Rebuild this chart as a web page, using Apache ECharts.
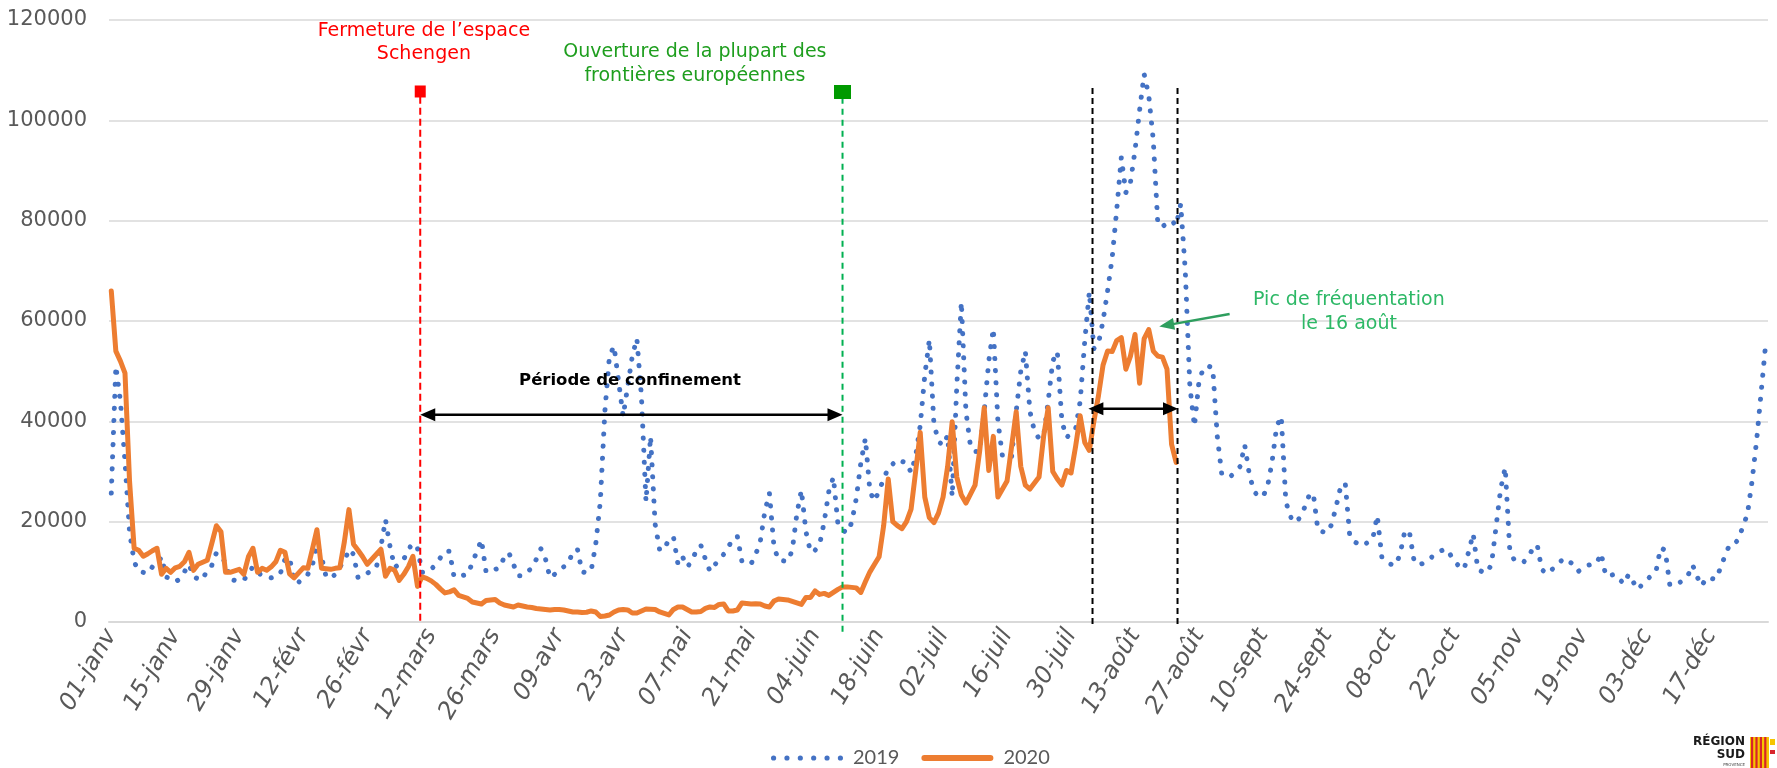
<!DOCTYPE html>
<html>
<head>
<meta charset="utf-8">
<script src="https://cdn.jsdelivr.net/npm/echarts@6/dist/echarts.min.js"></script>
<style>
html, body { margin: 0; padding: 0; background: #fff; }
#echarts { width: 1777px; height: 768px; }
</style>
</head>
<body>
<div id="echarts"></div>
<script>
// axe des dates (calendrier 2019)
var monthNames = ['janv', 'févr', 'mars', 'avr', 'mai', 'juin', 'juil', 'août', 'sept', 'oct', 'nov', 'déc'];
var monthDays = [31, 28, 31, 30, 31, 30, 31, 31, 30, 31, 30, 31];
var dayCount = 363;
var yTicks = [0, 20000, 40000, 60000, 80000, 100000, 120000];

// fréquentation journalière 2019
var visits2019 = [
    25700, 51000, 44000, 32000, 18000, 12000, 10100, 9900, 9700, 11000,
    11500, 13000, 9000, 8500, 8000, 8600, 10000, 11500, 9000, 8600,
    8400, 10500, 11300, 13800, 12700, 12000, 8500, 8300, 8200, 8300,
    9800, 11000, 10000, 9200, 9000, 8800, 9000, 9700, 12500, 12900,
    8000, 7900, 9000, 9500, 11300, 15300, 13000, 9000, 8700, 9500,
    11000, 12100, 14500, 13500, 8800, 9200, 9700, 10300, 10900, 15000,
    20400, 15000, 10900, 11500, 12500, 14500, 15700, 14700, 9900, 9900,
    10500, 11500, 12800, 14100, 14100, 9000, 9100, 9300, 9500, 11800,
    14100, 16400, 10000, 10000, 10500, 10800, 13000, 13800, 11500, 9200,
    9200, 10000, 10700, 12500, 14600, 12600, 8800, 9500, 10500, 11000,
    11700, 14000, 14500, 10000, 9800, 10200, 15500, 24000, 42000, 53000,
    55000, 48000, 41000, 47000, 53000, 56500, 45000, 24000, 37000, 19500,
    14300, 14500, 16500, 17000, 11500, 13000, 11000, 12000, 14300, 15300,
    12500, 10100, 11300, 12500, 13500, 14800, 16800, 17000, 12000, 11800,
    11600, 13500, 16000, 22000, 25700, 15000, 12300, 12200, 12100, 14300,
    21500, 26300, 18000, 13900, 14300, 15500, 20000, 26000, 28900, 19500,
    18300, 17800, 19800, 24600, 31700, 36600, 26000, 24100, 26200, 28500,
    30700, 31500, 32400, 32000, 31800, 29800, 33000, 39200, 49200, 56300,
    39500, 36000, 35200, 37200, 25000, 47000, 63800, 42000, 35000, 34000,
    34000, 42000, 52000, 58500, 40000, 33000, 32500, 33000, 42000, 50000,
    54000, 42000, 38000, 36600, 37000, 44000, 52000, 53900, 40000, 36800,
    37500, 38500, 44000, 56000, 65800, 54500, 55500, 60000, 66000, 72600,
    82200, 92600, 85600, 87600, 94000, 102000, 109200, 105000, 96000, 79200,
    78800, 79500, 80000, 79000, 83300, 70000, 47000, 39000, 48000, 50700,
    51000, 50700, 37000, 29300, 29100, 29100, 30000, 31000, 35300, 29500,
    26100, 25000, 25000, 27000, 32000, 39000, 41000, 24000, 21000, 19800,
    20700, 22600, 25000, 25700, 18400, 18000, 17800, 19400, 23000, 27000,
    27700, 17000, 16000, 15500, 15200, 16000, 16500, 21200, 13000, 12000,
    11500, 11300, 13500, 18000, 18200, 12500, 11300, 11700, 12100, 13000,
    13700, 14200, 14600, 13400, 12000, 11000, 10500, 14000, 17600, 10500,
    10000, 9800, 11500, 19000, 26500, 30800, 14300, 12300, 12000, 11900,
    13000, 14500, 15400, 10500, 9600, 10300, 11000, 12000, 12700, 12000,
    11500, 10100, 10700, 11300, 11500, 11700, 13700, 9200, 9300, 9500,
    8500, 7600, 9500, 8000, 6500, 7500, 8400, 9300, 10100, 14800,
    14300, 7500, 7200, 7700, 8500, 9300, 11400, 9000, 7200, 8800,
    8700, 8500, 10500, 13000, 15200, 15300, 16500, 19000, 21500, 28000,
    36100, 45800, 55500
];

// fréquentation journalière 2020 (jusqu'au 21 août)
var visits2020 = [
    66000, 54000, 52000, 49600, 28000, 14700, 14300, 13100, 13600, 14200,
    14700, 9500, 10700, 9900, 10800, 11100, 12000, 13900, 10300, 11500,
    11900, 12300, 15700, 19200, 18000, 9900, 9900, 10200, 10500, 9500,
    13000, 14700, 9900, 10700, 10300, 11000, 12000, 14300, 13900, 9600,
    8800, 9800, 10800, 10700, 14500, 18400, 10700, 10600, 10500, 10700,
    10800, 16000, 22400, 15500, 14300, 13000, 11500, 12500, 13500, 14500,
    9100, 10700, 10300, 8300, 9500, 11000, 13100, 7100, 9000, 8700,
    8200, 7500, 6600, 5800, 6000, 6400, 5300, 5000, 4700, 4000,
    3800, 3600, 4300, 4400, 4500, 3800, 3400, 3200, 3000, 3400,
    3200, 3000, 2900, 2700, 2600, 2500, 2400, 2500, 2500, 2400,
    2200, 2000, 2000, 1900, 1950, 2200, 2000, 1100, 1200, 1400,
    2000, 2400, 2500, 2400, 1800, 1800, 2200, 2600, 2550, 2500,
    2000, 1700, 1400, 2500, 3000, 3000, 2500, 2000, 2000, 2100,
    2700, 3000, 2900, 3500, 3600, 2200, 2200, 2400, 3800, 3700,
    3600, 3650, 3600, 3200, 3000, 4200, 4600, 4500, 4400, 4100,
    3800, 3500, 4900, 4900, 6200, 5500, 5700, 5300, 5900, 6500,
    7000, 7000, 6900, 6800, 5900, 8000, 10000, 11500, 13000, 19200,
    28500, 20000, 19200, 18600, 20000, 22500, 30000, 37800, 24900, 20800,
    19800, 21700, 24900, 31000, 39900, 28900, 25300, 23700, 25500, 27300,
    34000, 42700, 30200, 37000, 24900, 26500, 28100, 35000, 41900, 31000,
    27300, 26500, 27700, 28900, 37000, 42700, 30000, 28500, 27300, 30200,
    29700, 35000, 41100, 35800, 34200, 40000, 45100, 51200, 54000, 53900,
    56100, 56700, 50400, 53000, 57300, 47600, 56500, 58300, 54000, 53000,
    52800, 50400, 35400, 31800
];

var categories = [];
for (var m = 0; m < 12 && categories.length < dayCount; m++) {
    for (var d = 1; d <= monthDays[m] && categories.length < dayCount; d++) {
        categories.push((d < 10 ? '0' + d : '' + d) + '-' + monthNames[m]);
    }
}

// icônes de légende : pointillés ronds et trait épais
var dotIcon = 'path://';
for (var k = 0; k < 6; k++) {
    var cx = 2.5 + k * 12.9;
    dotIcon += 'M' + (cx - 2.5) + ' 2.5A2.5 2.5 0 1 0 ' + (cx + 2.5) + ' 2.5A2.5 2.5 0 1 0 ' + (cx - 2.5) + ' 2.5Z';
}
var barIcon = 'path://M3 0H69A3 3 0 0 1 69 6H3A3 3 0 0 1 3 0Z';

var myChart = echarts.init(document.getElementById('echarts'));

var option = {
    animation: false,
    backgroundColor: '#fff',
    grid: {
        left: 109,
        right: 9,
        top: 20,
        bottom: 146
    },
    legend: {
        left: 766,
        top: 743,
        itemWidth: 72,
        itemHeight: 24,
        itemGap: 22,
        textStyle: {
            color: '#595959',
            fontSize: 20,
            fontFamily: 'Lato',
            padding: [0, 0, 0, 5]
        },
        data: [
            { name: '2019', icon: dotIcon },
            { name: '2020', icon: barIcon }
        ]
    },
    xAxis: [
        {
            type: 'category',
            data: categories,
            boundaryGap: true,
            axisLine: {
                lineStyle: {
                    color: '#D9D9D9',
                    width: 2
                }
            },
            axisTick: {
                interval: 13,
                length: 7,
                lineStyle: {
                    color: '#D9D9D9',
                    width: 1.5
                }
            },
            axisLabel: {
                interval: 13,
                rotate: 60,
                margin: 9,
                color: '#595959',
                fontStyle: 'italic',
                fontSize: 24,
                fontFamily: 'DejaVu Sans'
            }
        }
    ],
    yAxis: [
        {
            type: 'value',
            min: yTicks[0],
            max: yTicks[yTicks.length - 1],
            interval: yTicks[1] - yTicks[0],
            axisLine: { show: false },
            axisTick: { show: false },
            splitLine: {
                lineStyle: {
                    color: '#D9D9D9',
                    width: 1.5
                }
            },
            axisLabel: {
                color: '#595959',
                fontSize: 21,
                fontFamily: 'DejaVu Sans',
                margin: 22,
                formatter: function (v) { return '' + v; }
            }
        }
    ],
    series: [
        {
            name: '2019',
            type: 'line',
            data: visits2019,
            symbol: 'none',
            z: 2,
            itemStyle: { color: '#4472C4' },
            lineStyle: {
                color: '#4472C4',
                width: 5,
                type: [0.1, 12],
                cap: 'round',
                join: 'round'
            }
        },
        {
            name: '2020',
            type: 'line',
            data: visits2020,
            symbol: 'none',
            z: 3,
            itemStyle: { color: '#ED7D31' },
            lineStyle: {
                color: '#ED7D31',
                width: 5,
                cap: 'round',
                join: 'round'
            }
        }
    ]
};
myChart.setOption(option);

// position sur l'axe des dates (index de jour, fractionnaire)
function noteX(c) {
    var a = myChart.convertToPixel({ xAxisIndex: 0 }, 0);
    var b = myChart.convertToPixel({ xAxisIndex: 0 }, 1);
    return a + (b - a) * c;
}
function noteY(v) {
    return myChart.convertToPixel({ yAxisIndex: 0 }, v);
}

function arrowHead(tipX, tipY, fromX, fromY, len, wid, color) {
    var dx = tipX - fromX, dy = tipY - fromY;
    var l = Math.sqrt(dx * dx + dy * dy);
    var ux = dx / l, uy = dy / l;
    var bx = tipX - ux * len, by = tipY - uy * len;
    return {
        type: 'polygon',
        z: 20,
        shape: { points: [[tipX, tipY], [bx - uy * wid / 2, by + ux * wid / 2], [bx + uy * wid / 2, by - ux * wid / 2]] },
        style: { fill: color }
    };
}

function doubleArrow(x1, x2, y, color) {
    return [
        { type: 'line', z: 20, shape: { x1: x1 + 10, y1: y, x2: x2 - 10, y2: y }, style: { stroke: color, lineWidth: 2.5 } },
        arrowHead(x1, y, x2, y, 15, 13, color),
        arrowHead(x2, y, x1, y, 15, 13, color)
    ];
}

var xRed = noteX(67.6), xGreen = noteX(160), xB1 = noteX(214.7), xB2 = noteX(233.3);
var y0 = noteY(0);
var notes = [];

// fermeture Schengen
notes.push({ type: 'line', z: 20, shape: { x1: xRed, y1: noteY(104700), x2: xRed, y2: y0 }, style: { stroke: '#FF0000', lineWidth: 2, lineDash: [7, 4] } });
notes.push({ type: 'rect', z: 21, shape: { x: xRed - 5.5, y: noteY(105750) - 6, width: 11, height: 12 }, style: { fill: '#FF0000' } });
notes.push({ type: 'text', z: 21, style: { x: noteX(68.4), y: noteY(115550), text: 'Fermeture de l’espace\nSchengen', align: 'center', verticalAlign: 'middle', lineHeight: 23.5, fill: '#FF0000', font: '19px "DejaVu Sans"' } });

// ouverture frontières
notes.push({ type: 'line', z: 20, shape: { x1: xGreen, y1: noteY(104500), x2: xGreen, y2: y0 + 10 }, style: { stroke: '#00B050', lineWidth: 2, lineDash: [6, 5] } });
notes.push({ type: 'rect', z: 21, shape: { x: xGreen - 8.5, y: noteY(105650) - 7, width: 17, height: 14 }, style: { fill: '#009A00' } });
notes.push({ type: 'text', z: 21, style: { x: noteX(127.7), y: noteY(111250), text: 'Ouverture de la plupart des\nfrontières européennes', align: 'center', verticalAlign: 'middle', lineHeight: 23.6, fill: '#1E9E1E', font: '19px "DejaVu Sans"' } });

// confinement
notes = notes.concat(doubleArrow(xRed, xGreen, noteY(41300), '#000'));
notes.push({ type: 'text', z: 21, style: { x: noteX(113.5), y: noteY(48000), text: 'Période de confinement', align: 'center', verticalAlign: 'middle', fill: '#000', font: 'bold 16.5px "DejaVu Sans"' } });

// pic d'août
notes.push({ type: 'line', z: 20, shape: { x1: xB1, y1: noteY(106450), x2: xB1, y2: y0 + 5 }, style: { stroke: '#000', lineWidth: 2, lineDash: [6, 4] } });
notes.push({ type: 'line', z: 20, shape: { x1: xB2, y1: noteY(106450), x2: xB2, y2: y0 + 5 }, style: { stroke: '#000', lineWidth: 2, lineDash: [6, 4] } });
notes = notes.concat(doubleArrow(noteX(213.8), noteX(233.4), noteY(42500), '#000'));

var gx1 = noteX(244.7), gy1 = noteY(61400), gx2 = noteX(229.3), gy2 = noteY(58900);
notes.push({ type: 'line', z: 20, shape: { x1: gx1, y1: gy1, x2: gx2 + (gx1 - gx2) * 0.15, y2: gy2 + (gy1 - gy2) * 0.15 }, style: { stroke: '#2E9E5E', lineWidth: 2.5 } });
notes.push(arrowHead(gx2, gy2, gx1, gy1, 15, 12, '#2E9E5E'));
notes.push({ type: 'text', z: 21, style: { x: noteX(270.8), y: noteY(61750), text: 'Pic de fréquentation\nle 16 août', align: 'center', verticalAlign: 'middle', lineHeight: 24.5, fill: '#2DB866', font: '19px "DejaVu Sans"' } });

// logo Région Sud
notes.push({ type: 'text', style: { x: 1745, y: 742, text: 'RÉGION', align: 'right', verticalAlign: 'middle', fill: '#1a1a1a', font: 'bold 12px "DejaVu Sans"' } });
notes.push({ type: 'text', style: { x: 1745, y: 755, text: 'SUD', align: 'right', verticalAlign: 'middle', fill: '#1a1a1a', font: 'bold 12px "DejaVu Sans"' } });
notes.push({ type: 'text', style: { x: 1745, y: 765, text: 'PROVENCE', align: 'right', verticalAlign: 'middle', fill: '#444', font: '4px "DejaVu Sans"' } });
notes.push({ type: 'rect', shape: { x: 1750, y: 737, width: 27, height: 31 }, style: { fill: '#F6C500' } });
for (var s = 0; s < 4; s++) {
    notes.push({ type: 'rect', shape: { x: 1751 + s * 4.4, y: 737, width: 2.2, height: 31 }, style: { fill: '#D8232A' } });
}
notes.push({ type: 'rect', shape: { x: 1769, y: 737, width: 8, height: 31 }, style: { fill: '#ffffff' } });
notes.push({ type: 'rect', shape: { x: 1770, y: 739, width: 5, height: 6 }, style: { fill: '#F6C500' } });
notes.push({ type: 'rect', shape: { x: 1770, y: 750, width: 5, height: 4 }, style: { fill: '#D8232A' } });

myChart.setOption({ graphic: { elements: notes } });
</script>
</body>
</html>
